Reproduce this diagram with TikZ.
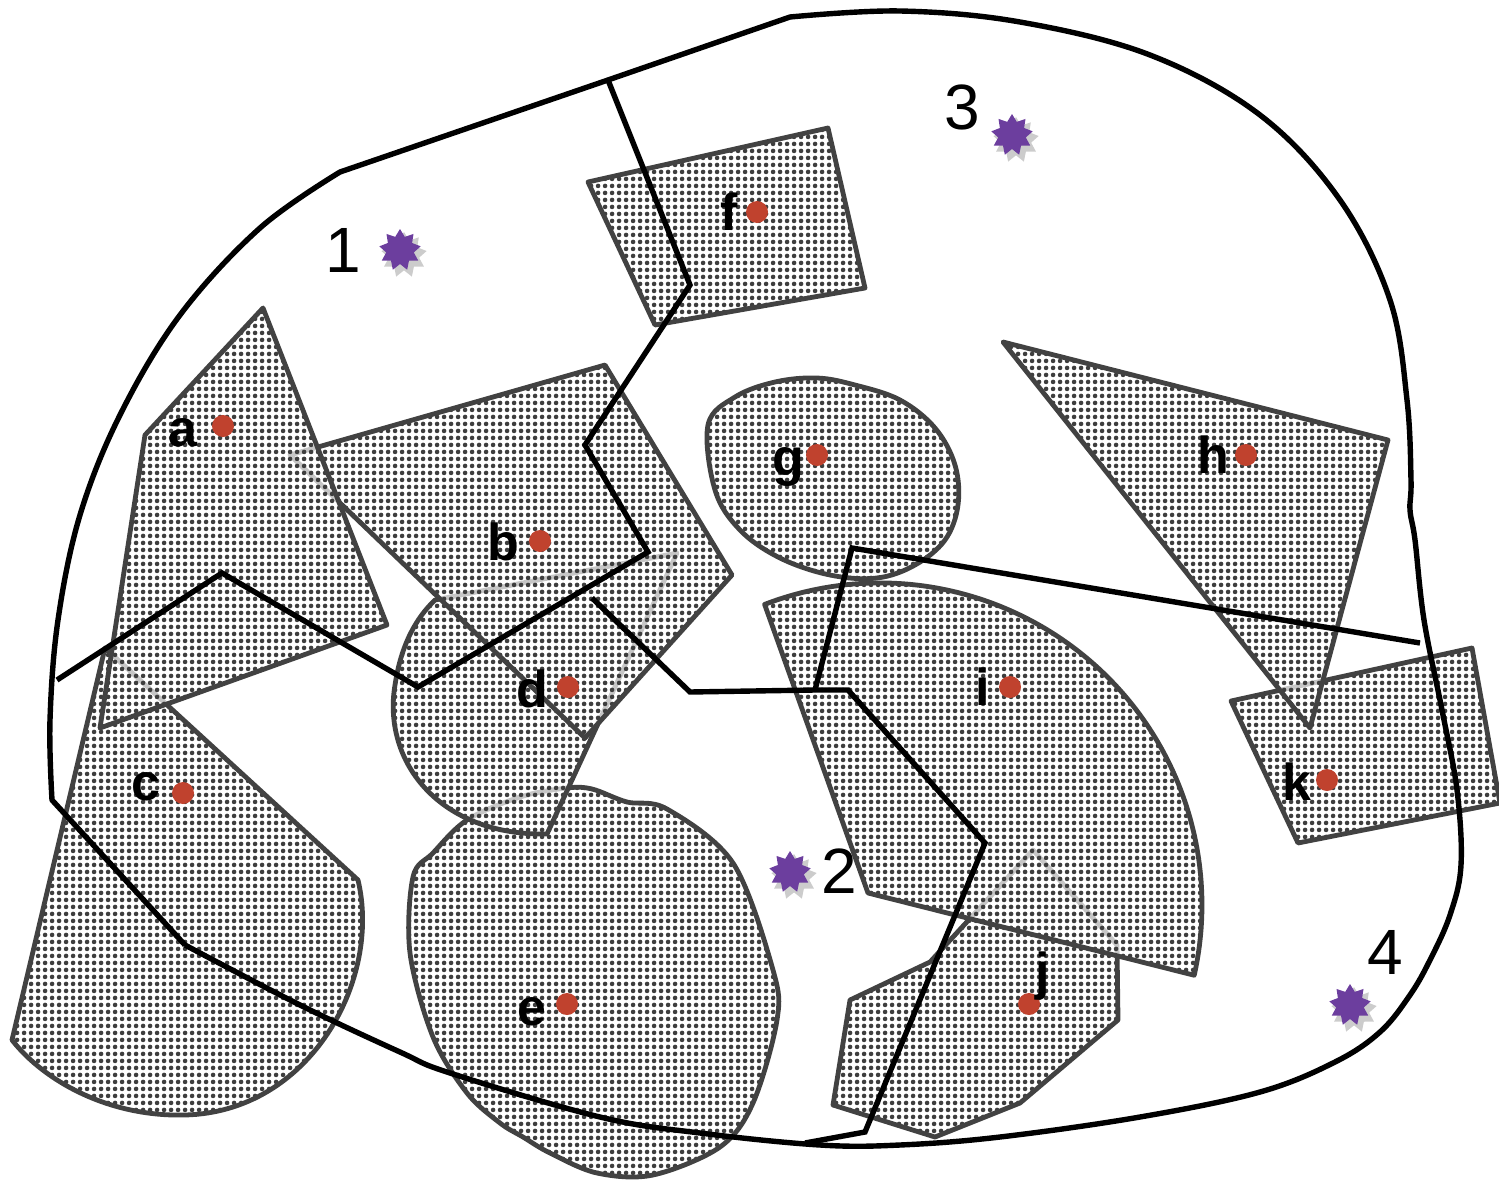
\documentclass[tikz,border=0pt]{standalone}
\usepackage{fontspec}
\setmainfont{Liberation Sans}
\usetikzlibrary{shapes.geometric,patterns}

% halftone dot screen used for every area
\pgfdeclarepatternformonly{halftone}{\pgfpointorigin}{\pgfpoint{7pt}{7pt}}{\pgfpoint{7pt}{7pt}}{%
  \pgfpathcircle{\pgfpoint{3.5pt}{3.5pt}}{2.6pt}\pgfusepath{fill}}

\definecolor{edgegray}{RGB}{66,66,66}
\definecolor{dotgray}{RGB}{62,62,62}
\definecolor{markred}{RGB}{192,66,46}
\definecolor{starpurple}{RGB}{108,62,158}

\tikzset{
  area/.style={preaction={fill=white, fill opacity=0.7},
    pattern=halftone, pattern color=dotgray,
    draw=edgegray, line width=4.8pt, line join=round},
  divider/.style={draw=black, line width=5.4pt, line join=miter},
  boundary/.style={draw=black, line width=5.4pt, line join=round},
  pin/.style={circle, fill=markred, minimum size=22pt, inner sep=0pt},
  tag/.style={font=\bfseries\fontsize{52}{52}\selectfont, anchor=base, inner sep=0pt},
  zonenum/.style={font=\fontsize{64}{64}\selectfont, inner sep=0pt},
  starmark/.style={star, star points=9, star point ratio=1.5, minimum size=42pt,
    inner sep=0pt, fill=starpurple},
  starshade/.style={star, star points=9, star point ratio=1.5, minimum size=46pt,
    inner sep=0pt, fill=black, fill opacity=0.2},
}

\begin{document}
\begin{tikzpicture}[x=1pt,y=1pt]
\useasboundingbox (0,0) rectangle (1499,-1183);

% ---- areas, back to front ----
% e
\path[area] plot[smooth cycle, tension=0.55] coordinates {
  (567,-788) (592,-789) (627,-802) (667,-809) (733,-863) (773,-970) (777,-1020)
  (753,-1103) (720,-1147) (653,-1175) (597,-1173) (550,-1153) (523,-1137)
  (500,-1123) (467,-1093) (433,-1037) (410,-953) (413,-877) (433,-853)
  (467,-820) (520,-797)};
% d
\path[area] (435,-600) -- (677,-553) -- (547,-834)
  .. controls (440,-836) and (382,-762) .. (395,-685)
  .. controls (401,-645) and (416,-618) .. cycle;
% c
\path[area] (105,-648) -- (358,-880)
  .. controls (382,-980) and (310,-1112) .. (185,-1115)
  .. controls (110,-1117) and (45,-1082) .. (12,-1040) -- cycle;
% b
\path[area] (290,-455) -- (605,-365) -- (732,-575) -- (585,-738) -- cycle;
% a
\path[area] (145,-435) -- (263,-308) -- (387,-625) -- (100,-728) -- cycle;
% f
\path[area] (588,-182) -- (828,-128) -- (865,-288) -- (655,-325) -- cycle;
% g
\path[area] plot[smooth cycle, tension=0.6] coordinates {
  (708,-425) (735,-397) (775,-382) (817,-378) (855,-385) (900,-400)
  (935,-428) (955,-465) (958,-505) (945,-540) (915,-565) (877,-578)
  (830,-575) (780,-558) (740,-530) (715,-490)};
% j
\path[area] (833,-1105) -- (850,-1000) -- (930,-962) -- (1033,-850)
  -- (1117,-945) -- (1118,-1020) -- (1020,-1103) -- (935,-1137) -- cycle;
% i
\path[area] (764.6,-604.4) arc[start angle=111, end angle=-12.6, radius=322pt]
  -- (868,-893) -- cycle;
% k
\path[area] (1231,-701) -- (1472,-648) -- (1500,-803) -- (1298,-843) -- cycle;
% h
\path[area] (1003,-342) -- (1388,-440) -- (1310,-728) -- cycle;

% ---- outer boundary ----
\coordinate (cornerSW) at (185,-945);
\coordinate (cornerW) at (52,-800);
\coordinate (crestA) at (608,-80);
\coordinate (crestB) at (790,-17);
\draw[boundary] (cornerSW) -- (cornerW)
  -- plot[smooth, tension=0.6] coordinates {(52,-800) (50,-720) (58,-620) (80,-515)
     (120,-415) (180,-315) (260,-228) (340,-172)}
  -- (crestA) -- (crestB)
  -- plot[smooth, tension=0.6] coordinates {(790,-17) (900,-11) (1020,-22) (1150,-55)
     (1260,-115) (1340,-200) (1390,-300) (1407,-400) (1411,-480) (1410,-510)
     (1415,-540) (1424,-620) (1442,-710) (1457,-790) (1461,-865) (1450,-915)
     (1430,-960) (1410,-995) (1380,-1032) (1335,-1062) (1260,-1092) (1140,-1117)
     (1000,-1137) (900,-1145) (820,-1145) (700,-1133) (600,-1117) (450,-1073)
     (400,-1052) (300,-1005) (185,-945)};

% ---- zone dividers ----
\coordinate (westEnd) at (57,-680);
\coordinate (eastEnd) at (1420,-643);
\coordinate (southEnd) at (805,-1143);
\coordinate (fork) at (815,-690);
\draw[divider] (crestA) -- (690,-285) -- (585,-445) -- (648,-552) -- (418,-687)
  -- (222,-573) -- (westEnd);
\draw[divider] (592,-598) -- (690,-692) -- (fork) -- (848,-690) -- (985,-843)
  -- (865,-1132) -- (southEnd);
\draw[divider] (fork) -- (852,-548) -- (eastEnd);

% ---- markers and letters ----
\node[pin] (pa) at (223,-426) {};  \node[tag] (ta) at (183,-446) {a};
\node[pin] (pb) at (540,-541) {};  \node[tag] (tb) at (503,-560) {b};
\node[pin] (pc) at (183,-793) {};  \node[tag] (tc) at (146,-800) {c};
\node[pin] (pd) at (568,-687) {};  \node[tag] (td) at (532,-707) {d};
\node[pin] (pe) at (567,-1004) {}; \node[tag] (te) at (532,-1025) {e};
\node[pin] (pf) at (757,-212) {};  \node[tag] (tf) at (729,-230) {f};
\node[pin] (pg) at (817,-455) {};  \node[tag] (tg) at (788,-475) {g};
\node[pin] (ph) at (1246,-455) {}; \node[tag] (th) at (1213,-473) {h};
\node[pin] (pi) at (1010,-687) {}; \node[tag] (ti) at (983,-705) {i};
\node[pin] (pj) at (1029,-1004) {};\node[tag] (tj) at (1043,-989) {j};
\node[pin] (pk) at (1327,-780) {}; \node[tag] (tk) at (1297,-800) {k};

% ---- zone stars and numbers ----
\node[starshade] (h1) at (404,-255) {};
\node[starshade] (h2) at (794,-877) {};
\node[starshade] (h3) at (1016,-140) {};
\node[starshade] (h4) at (1354,-1010) {};
\node[starmark] (s1) at (400,-250) {};
\node[starmark] (s2) at (790,-872) {};
\node[starmark] (s3) at (1012,-135) {};
\node[starmark] (s4) at (1350,-1005) {};
\node[zonenum] (z1) at (343,-250) {1};
\node[zonenum] (z2) at (839,-871) {2};
\node[zonenum] (z3) at (962,-107) {3};
\node[zonenum] (z4) at (1385,-952) {4};
\end{tikzpicture}
\end{document}
